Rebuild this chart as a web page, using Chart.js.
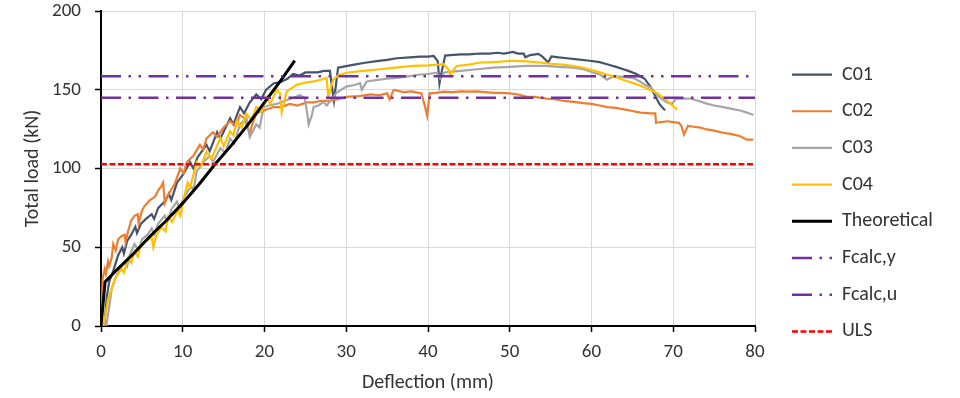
<!DOCTYPE html>
<html><head><meta charset="utf-8">
<script src="https://cdn.jsdelivr.net/npm/chart.js@4.4.1/dist/chart.umd.min.js"></script>
<style>html,body{margin:0;padding:0;background:#fff}</style>
</head><body>
<canvas id="c" width="960" height="398"></canvas>
<script>
// ---------- data ----------
const seriesNames = ["C01","C02","C03","C04","Theoretical","Fcalc,y","Fcalc,u","ULS"];
const xTicks = [0,10,20,30,40,50,60,70,80];
const yTicks = [0,50,100,150,200];

const c01X = [0.4,0.7,1.0,1.5,2.1,2.6,2.8,3.2,3.7,4.2,4.4,4.9,5.5,6.2,6.5,7.0,7.8,8.3,8.6,9.3,10.0,10.9,11.3,11.8,12.9,13.3,14.2,14.6,15.8,16.2,17.0,17.5,18.2,19.0,19.6,20.2,21.1,22.0,22.8,23.5,24.3,25.0,25.6,26.5,27.3,28.0,28.3,28.5,29.0,30.0,31.0,32.1,33.5,35.0,36.2,37.8,39.0,40.0,40.7,41.2,41.4,41.7,42.1,42.7,44.0,45.0,46.4,47.5,48.5,49.3,50.4,51.0,51.7,51.9,52.5,53.5,54.0,54.7,55.1,56.0,57.0,58.0,59.8,61.0,62.0,63.0,63.9,64.5,65.5,66.5,67.2,67.8,68.3,68.7,69.0];
const c01Y = [0,18,28,35,45,50,46,54,58,63,59,65,68,71,68,75,79,84,80,91,96,104,100,107,115,111,123,119,132,128,139,135,142,147,144,150,154,155,157,160,159,161,161,161,162,162,150,143,164,165,166,167,168,169,170,170.5,171,171,171.5,168,154,162,171.7,172,172.5,172.5,173,173,173.5,173,174,173,173,170.6,172,172.8,171,167.3,171.2,170.5,170,169.5,168.4,167.5,166,164.5,163,162,160,157,152,146,141,138.5,137];

const c02X = [0,0.2,0.45,0.6,0.86,1.0,1.3,1.5,1.8,2.1,2.5,2.9,3.0,3.3,3.7,4.1,4.5,4.6,5.0,5.3,6.0,6.6,7.0,7.4,7.6,7.8,8.3,9.0,9.7,10.1,10.5,11.3,12.1,12.5,12.9,13.7,14.2,15.0,15.8,16.5,17.0,17.5,18.2,18.5,19.0,20.0,21.1,22.0,23.1,24.0,25.2,26.0,27.0,28.0,29.0,30.0,31.5,33.0,34.0,35.0,35.3,35.8,37.0,38.0,39.2,39.7,39.9,40.2,41.0,41.9,43.0,44.0,45.0,46.0,47.0,48.0,49.0,50.0,51.0,52.1,53.0,54.5,55.5,56.5,57.8,59.0,60.0,61.0,61.9,63.0,64.0,65.0,66.0,67.2,67.8,67.9,68.5,69.3,70.0,70.7,71.0,71.3,71.8,72.5,73.3,74.1,75.0,76.1,77.0,78.2,79.0,79.8];
const c02Y = [0,30,36,33,41,38,43,52,48,55,57,58,53,60,67,70,71,65,73,76,80,82,86,89,91,78,84,90,100,97,104,108,115,112,119,123,120,126,130,127,134,132,122,128,135,137,139,139,141,140,142,142,143,143,144,145.5,146,147,146.5,147.7,144,149.9,148.5,149,147.7,138,133.5,147.7,148,148.8,148.5,149,148.8,149,148.5,148,148,147.7,147,145.5,145.5,144.4,144,143,142.3,141.5,141,140,139,138.5,137.5,136.5,135.5,135,135,129,129.5,130,129.5,129,127,121.6,127,126.5,126,124.8,124,122.7,122,120.5,118.3,118.3];

const c03X = [0.65,1.0,1.3,1.6,1.9,2.4,2.9,3.2,3.5,4.1,4.6,5.0,5.7,6.2,6.5,7.0,7.8,8.1,8.6,9.3,9.6,10.2,11.0,11.3,11.7,12.5,13.3,13.7,14.6,15.2,15.8,16.3,17.0,17.8,18.2,18.6,19.0,19.4,19.9,20.5,21.5,22.5,23.9,24.3,24.9,25.2,25.4,25.8,26.0,26.6,27.2,27.6,28.2,28.8,30.0,31.0,31.7,31.9,32.5,34.1,35.0,36.2,37.8,39.0,40.0,41.1,41.5,42.0,43.0,44.0,46.0,48.0,50.0,52.1,54.5,56.0,57.8,59.0,60.2,61.0,61.9,62.7,64.0,65.1,65.9,66.6,67.2,67.6,68.0,68.6,69.2,69.8,70.4,71.0,72.1,73.0,74.1,75.0,76.1,77.0,78.2,79.0,79.8];
const c03Y = [0,12,23.5,28,32,37,41,38,45,52,48,55,58,62,58,65,70,66,74,79,75,82,89,86,98,104,108,104,113,110,119,116,128,132,120,124,128,126,139,140,141,143,145.5,146.6,145,136,128,134,139,140,142.3,140,144,148,152,153,154.2,149.9,155.3,156.4,157,157.5,158.6,159.7,160,160.8,157,161,161.5,162,163,164,164.5,165.1,165.1,164.5,164,163,161,159.7,156.4,158.6,158,157.5,155.3,153,151.5,149.5,146.6,144,142,141,144.4,144.4,144.4,143,141.2,140,139,138,136.8,135.5,134];

const c04X = [0.3,0.45,0.86,1.3,1.7,2.1,2.5,2.8,3.3,3.7,4.1,4.5,4.9,5.5,6.2,6.4,6.8,7.4,7.9,8.2,8.7,9.4,9.7,10.2,10.6,10.9,11.7,12.2,12.9,13.5,14.6,15.0,15.8,16.2,16.6,17.2,17.8,18.4,19.0,19.6,20.3,20.7,21.5,21.9,22.1,22.7,23.9,25.0,26.0,27.0,27.6,27.8,28.4,29.0,30.0,32.0,34.1,36.0,38.2,40.0,41.9,42.5,42.7,43.5,45.0,46.4,48.0,50.4,52.0,53.7,55.0,56.5,57.8,59.0,60.0,61.0,61.9,63.0,64.0,65.1,66.0,67.2,68.0,69.2,69.9,70.5];
const c04Y = [0,4,17,23.5,30,33,36.6,34,43,40,47.5,44,51.8,54,56.2,50,58,62.7,60,69.3,66,73.6,70,82.4,91,88,104,101,110.7,106,119.4,114,123.7,121,130.3,126,134.6,131,139,136,145.5,141,149.9,147.7,135.8,148.8,153.1,154.5,155.3,156.5,157.5,145.5,156.4,159,160.8,162,163,164,165.1,165.5,166.2,163,159.7,165.1,166,167.3,167.5,168.4,168,167.3,166.5,166,165.1,164,162.5,161,159.7,158,156,154.2,152.5,149.9,148,143.3,140,137.3];

const theoX = [0,0.5,2,4,6,8,10,12,14,16,18,20,22,23.7];
const theoY = [0,28,36,46,57,67,78,90,103,115,128,142,156,168.5];

const refX = [0,80];
const fcalcY = [145,145];
const fcalcU = [158.5,158.5];
const uls = [102.7,102.7];

// ---------- styling ----------
const FONT = 'Carlito, Calibri, Lato, sans-serif';
const TXT = '#333333';
const pts = (xs, ys) => xs.map((x, i) => ({x: x, y: ys[i]}));

const defs = [
  [c01X, c01Y, '#44546A', 2.2, []],
  [c02X, c02Y, '#ED7D31', 2.2, []],
  [c03X, c03Y, '#A5A5A5', 2.2, []],
  [c04X, c04Y, '#FFC000', 2.2, []],
  [theoX, theoY, '#000000', 3, []],
  [refX, fcalcY, '#7030A0', 2.5, [20, 7.5, 2.5, 7.5]],
  [refX, fcalcU, '#7030A0', 2.5, [20, 7.5, 2.5, 7.5, 2.5, 7.5]],
  [refX, uls, '#FF0000', 2.5, [6, 2.5]]
];
const datasets = defs.map((d, i) => ({
  label: seriesNames[i],
  data: pts(d[0], d[1]),
  showLine: true,
  borderColor: d[2],
  backgroundColor: d[2],
  borderWidth: d[3],
  borderDash: d[4],
  pointRadius: 0,
  pointHoverRadius: 0,
  tension: 0,
  fill: false,
  order: 10 - i
}));

const LEGEND_W = 205, LEGEND_SHIFT = 20.3;
const legendTweak = {
  id: 'legendTweak',
  afterInit(chart) {
    const lg = chart.legend;
    const f = lg.fit.bind(lg);
    lg.fit = function () { f(); this.width = LEGEND_W; };
    const dr = lg.draw.bind(lg);
    lg.draw = function () { const L = this.left; this.left = L + LEGEND_SHIFT; dr(); this.left = L; };
  }
};

new Chart(document.getElementById('c'), {
  type: 'scatter',
  data: { datasets },
  plugins: [legendTweak],
  options: {
    responsive: false,
    animation: false,
    events: [],
    layout: { padding: { top: 11, bottom: 3, left: 0, right: 0 } },
    plugins: {
      tooltip: { enabled: false },
      legend: {
        position: 'right',
        labels: {
          usePointStyle: true,
          pointStyle: 'line',
          pointStyleWidth: 40,
          padding: 16.7,
          color: TXT,
          font: { family: FONT, size: 20 },
          generateLabels: chart => chart.data.datasets.map((ds, i) => ({
            text: ds.label,
            datasetIndex: i,
            fillStyle: ds.borderColor,
            strokeStyle: ds.borderColor,
            fontColor: TXT,
            lineWidth: ds.borderWidth,
            lineDash: ds.borderDash,
            lineCap: 'butt',
            pointStyle: 'line',
            hidden: false
          }))
        }
      }
    },
    scales: {
      x: {
        type: 'linear', min: 0, max: 80,
        afterBuildTicks: s => { s.ticks = xTicks.map(v => ({value: v})); },
        ticks: { color: TXT, font: { family: FONT, size: 19 }, padding: 8.6 },
        grid: { color: '#D9D9D9', lineWidth: 1, tickColor: '#000', tickLength: 6, tickWidth: 1.5 },
        border: { color: '#000', width: 2 },
        title: { display: true, text: 'Deflection (mm)', color: TXT, font: { family: FONT, size: 20 }, padding: { top: 0, bottom: 0 } },
        afterFit: s => { s.height = 69; }
      },
      y: {
        type: 'linear', min: 0, max: 200,
        afterBuildTicks: s => { s.ticks = yTicks.map(v => ({value: v})); },
        ticks: { color: TXT, font: { family: FONT, size: 19 }, padding: 14 },
        grid: { color: '#D9D9D9', lineWidth: 1, tickColor: '#000', tickLength: 6, tickWidth: 1.5 },
        border: { color: '#000', width: 2 },
        title: { display: true, text: 'Total load (kN)', color: TXT, font: { family: FONT, size: 20 }, padding: { top: 21, bottom: 0 } },
        afterFit: s => { s.width = 101; s.paddingTop = 9; }
      }
    }
  }
});
</script>
</body></html>
